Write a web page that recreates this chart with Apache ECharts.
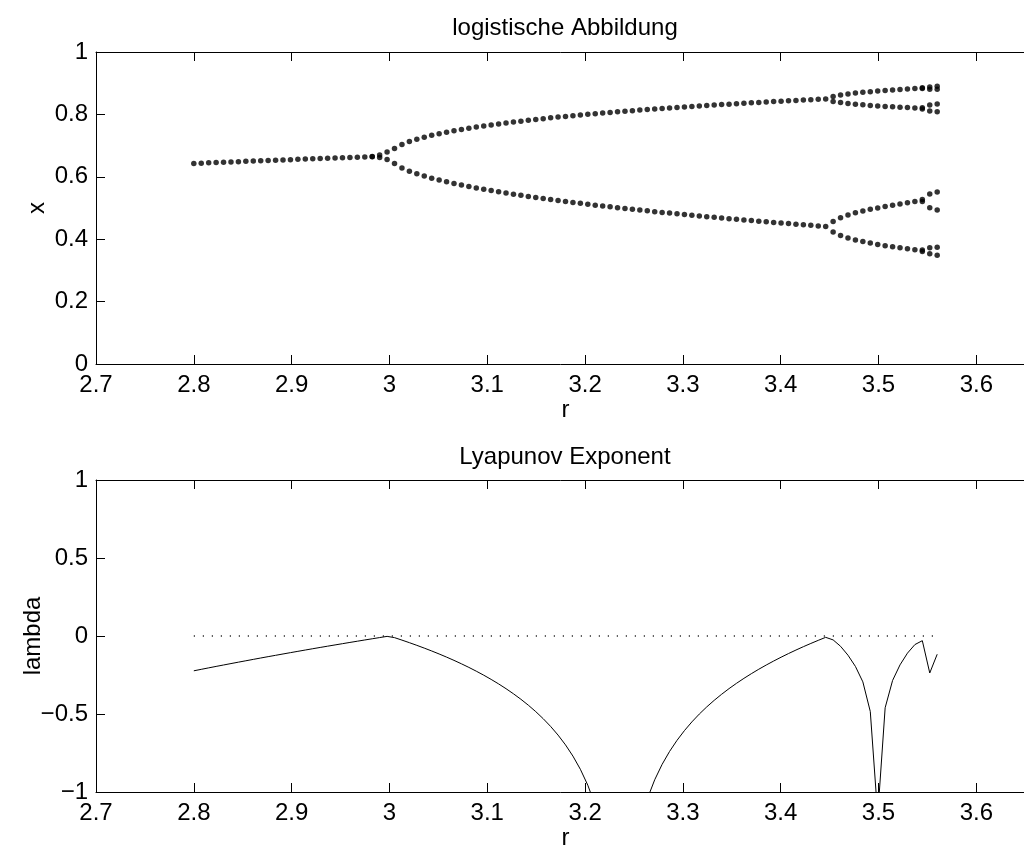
<!DOCTYPE html>
<html>
<head>
<meta charset="utf-8">
<script src="https://cdn.jsdelivr.net/npm/echarts@6/dist/echarts.min.js"></script>
<style>
  html, body { margin: 0; padding: 0; background: #fff; }
  #chart { width: 1024px; height: 847px; }
</style>
</head>
<body>
<div id="chart"></div>
<script>
// Parameter grid r (101 values, 2.8 ... 3.56)
const rGrid = [
  2.8, 2.8076, 2.8152, 2.8228, 2.8304, 2.838, 2.8456, 2.8532, 2.8608, 2.8684,
  2.876, 2.8836, 2.8912, 2.8988, 2.9064, 2.914, 2.9216, 2.9292, 2.9368, 2.9444,
  2.952, 2.9596, 2.9672, 2.9748, 2.9824, 2.99, 2.9976, 3.0052, 3.0128, 3.0204,
  3.028, 3.0356, 3.0432, 3.0508, 3.0584, 3.066, 3.0736, 3.0812, 3.0888, 3.0964,
  3.104, 3.1116, 3.1192, 3.1268, 3.1344, 3.142, 3.1496, 3.1572, 3.1648, 3.1724,
  3.18, 3.1876, 3.1952, 3.2028, 3.2104, 3.218, 3.2256, 3.2332, 3.2408, 3.2484,
  3.256, 3.2636, 3.2712, 3.2788, 3.2864, 3.294, 3.3016, 3.3092, 3.3168, 3.3244,
  3.332, 3.3396, 3.3472, 3.3548, 3.3624, 3.37, 3.3776, 3.3852, 3.3928, 3.4004,
  3.408, 3.4156, 3.4232, 3.4308, 3.4384, 3.446, 3.4536, 3.4612, 3.4688, 3.4764,
  3.484, 3.4916, 3.4992, 3.5068, 3.5144, 3.522, 3.5296, 3.5372, 3.5448, 3.5524,
  3.56
];

// Attractor of the logistic map: the x values visited at each r
const attractorValues = [
  [0.6429], [0.6438], [0.6448], [0.6457], [0.6467], [0.6476], [0.6486], [0.6495], [0.6504], [0.6514],
  [0.6523], [0.6532], [0.6541], [0.6550], [0.6559], [0.6568], [0.6577], [0.6586], [0.6595], [0.6604],
  [0.6612], [0.6621], [0.6630], [0.6638], [0.6640, 0.6654], [0.6615, 0.6697], [0.6558, 0.6792],
  [0.6424, 0.6904], [0.6284, 0.7036], [0.6181, 0.7130], [0.6097, 0.7206], [0.6023, 0.7271],
  [0.5956, 0.7330], [0.5896, 0.7382], [0.5839, 0.7431], [0.5786, 0.7476], [0.5736, 0.7518],
  [0.5689, 0.7557], [0.5643, 0.7594], [0.5600, 0.7630], [0.5559, 0.7663], [0.5518, 0.7696],
  [0.5480, 0.7726], [0.5442, 0.7756], [0.5406, 0.7784], [0.5371, 0.7812], [0.5337, 0.7838],
  [0.5303, 0.7864], [0.5271, 0.7889], [0.5239, 0.7913], [0.5209, 0.7936], [0.5178, 0.7959],
  [0.5149, 0.7981], [0.5120, 0.8003], [0.5092, 0.8023], [0.5064, 0.8044], [0.5037, 0.8064],
  [0.5010, 0.8083], [0.4984, 0.8102], [0.4958, 0.8120], [0.4933, 0.8139], [0.4908, 0.8156],
  [0.4883, 0.8174], [0.4859, 0.8191], [0.4836, 0.8207], [0.4812, 0.8223], [0.4790, 0.8239],
  [0.4767, 0.8255], [0.4745, 0.8270], [0.4723, 0.8286], [0.4701, 0.8300], [0.4680, 0.8315],
  [0.4659, 0.8329], [0.4638, 0.8343], [0.4617, 0.8357], [0.4597, 0.8370], [0.4577, 0.8384],
  [0.4557, 0.8397], [0.4538, 0.8410], [0.4519, 0.8422], [0.4500, 0.8435], [0.4481, 0.8447],
  [0.4462, 0.8459], [0.4444, 0.8471], [0.4426, 0.8483], [0.4408, 0.8494],
  [0.4229, 0.4571, 0.8417, 0.8577],
  [0.4117, 0.4691, 0.8383, 0.8620],
  [0.4035, 0.4777, 0.8350, 0.8656],
  [0.3976, 0.4844, 0.8327, 0.8683],
  [0.3923, 0.4901, 0.8306, 0.8707],
  [0.3876, 0.4956, 0.8288, 0.8728],
  [0.3833, 0.5004, 0.8271, 0.8748],
  [0.3793, 0.5049, 0.8256, 0.8766],
  [0.3756, 0.5092, 0.8242, 0.8783],
  [0.3722, 0.5131, 0.8230, 0.8799],
  [0.3690, 0.5168, 0.8218, 0.8814],
  [0.3659, 0.5205, 0.8207, 0.8828],
  [0.3605, 0.3655, 0.5210, 0.5270, 0.8175, 0.8215, 0.8830, 0.8855],
  [0.3531, 0.3725, 0.5010, 0.5445, 0.8112, 0.8302, 0.8810, 0.8881],
  [0.3489, 0.3741, 0.4939, 0.5512, 0.8085, 0.8336, 0.8807, 0.8899]
];

// Lyapunov exponent lambda at each r
const lyapunovValues = [
  -0.2231, -0.2137, -0.2043, -0.1950, -0.1858, -0.1767, -0.1677, -0.1588, -0.1499, -0.1411,
  -0.1324, -0.1238, -0.1152, -0.1067, -0.0983, -0.0899, -0.0816, -0.0734, -0.0653, -0.0572,
  -0.0492, -0.0412, -0.0334, -0.0255, -0.0178, -0.0101, -0.0024, -0.0105, -0.0264, -0.0428,
  -0.0598, -0.0776, -0.0960, -0.1152, -0.1353, -0.1562, -0.1782, -0.2013, -0.2256, -0.2512,
  -0.2783, -0.3070, -0.3377, -0.3704, -0.4056, -0.4436, -0.4848, -0.5300, -0.5798, -0.6353,
  -0.6980, -0.7699, -0.8544, -0.9564, -1.0852, -1.2599, -1.5320, -2.1784, -1.9274, -1.4475,
  -1.2066, -1.0442, -0.9215, -0.8227, -0.7400, -0.6689, -0.6064, -0.5507, -0.5004, -0.4546,
  -0.4125, -0.3736, -0.3373, -0.3034, -0.2716, -0.2415, -0.2131, -0.1861, -0.1605, -0.1360,
  -0.1125, -0.0901, -0.0685, -0.0478, -0.0279, -0.0086, -0.0250, -0.0660, -0.1230, -0.1950,
  -0.2940, -0.4840, -1.1500, -0.4600, -0.2850, -0.1850, -0.1100, -0.0550, -0.0300, -0.2370,
  -0.1170
];

// Dotted reference line lambda = 0
const zeroLineR = [2.8, 3.56];
const zeroLineValues = [0, 0];

// Axis ranges and tick steps
const rRange = [2.7, 3.66], rStep = 0.1;
const xRange = [0, 1], xStep = 0.2;
const lambdaRange = [-1, 1], lambdaStep = 0.5;

const FONT = '"Liberation Sans", Arial, Helvetica, sans-serif';
const FS = 24;
const textStyle = { color: '#000', fontFamily: FONT, fontSize: FS };

const bifurcationPoints = [];
attractorValues.forEach((vals, i) => vals.forEach(v => bifurcationPoints.push([rGrid[i], v])));
const lyapunovPoints = rGrid.map((r, i) => [r, lyapunovValues[i]]);
const zeroPoints = zeroLineR.map((r, i) => [r, zeroLineValues[i]]);

const axisLine = { show: true, onZero: false, lineStyle: { color: '#000', width: 1 } };
const axisTick = { show: true, inside: true, length: 9, lineStyle: { color: '#000', width: 1 } };

function rAxis(gridIndex, position, withLabels) {
  const ax = {
    gridIndex, type: 'value', position,
    min: rRange[0], max: rRange[1], interval: rStep,
    axisLine, axisTick, splitLine: { show: false },
    axisLabel: withLabels
      ? Object.assign({ show: true, margin: 9, showMaxLabel: false }, textStyle)
      : { show: false }
  };
  if (withLabels) {
    ax.name = 'r';
    ax.nameLocation = 'middle';
    ax.nameGap = 34;
    ax.nameMoveOverlap = false;
    ax.nameTextStyle = Object.assign({}, textStyle);
  }
  return ax;
}

const minusSign = v => String(v).replace('-', '\u2212');

const gridBase = { left: 96, width: 939, height: 312, outerBoundsMode: 'none', containLabel: false };

const chart = echarts.init(document.getElementById('chart'), null, { renderer: 'canvas' });
chart.setOption({
  animation: false,
  backgroundColor: '#fff',
  title: [
    { text: 'logistische Abbildung', left: 560, top: 11, textAlign: 'center',
      textStyle: Object.assign({ fontWeight: 'normal' }, textStyle) },
    { text: 'Lyapunov Exponent', left: 560, top: 440, textAlign: 'center',
      textStyle: Object.assign({ fontWeight: 'normal' }, textStyle) }
  ],
  grid: [
    Object.assign({ top: 52 }, gridBase),
    Object.assign({ top: 480 }, gridBase)
  ],
  xAxis: [
    rAxis(0, 'bottom', true),
    rAxis(0, 'top', false),
    rAxis(1, 'bottom', true),
    rAxis(1, 'top', false)
  ],
  yAxis: [
    {
      gridIndex: 0, type: 'value', min: xRange[0], max: xRange[1], interval: xStep,
      axisLine, axisTick, splitLine: { show: false },
      axisLabel: Object.assign({ margin: 8 }, textStyle),
      name: 'x', nameLocation: 'middle', nameGap: 47, nameRotate: 90, nameMoveOverlap: false,
      nameTextStyle: Object.assign({}, textStyle)
    },
    {
      gridIndex: 1, type: 'value', min: lambdaRange[0], max: lambdaRange[1], interval: lambdaStep,
      axisLine, axisTick, splitLine: { show: false },
      axisLabel: Object.assign({ margin: 8, formatter: minusSign }, textStyle),
      name: 'lambda', nameLocation: 'middle', nameGap: 51, nameRotate: 90, nameMoveOverlap: false,
      nameTextStyle: Object.assign({}, textStyle)
    }
  ],
  series: [
    {
      type: 'scatter', xAxisIndex: 0, yAxisIndex: 0,
      data: bifurcationPoints, symbol: 'circle', symbolSize: 5.5,
      itemStyle: { color: '#000' }, silent: true
    },
    {
      type: 'line', xAxisIndex: 2, yAxisIndex: 1,
      data: lyapunovPoints, showSymbol: false, clip: true,
      lineStyle: { color: '#000', width: 1 }, silent: true
    },
    {
      type: 'line', xAxisIndex: 2, yAxisIndex: 1,
      data: zeroPoints, showSymbol: false,
      lineStyle: { color: '#000', width: 1.3, type: [1, 8] }, silent: true
    }
  ]
});
</script>
</body>
</html>
